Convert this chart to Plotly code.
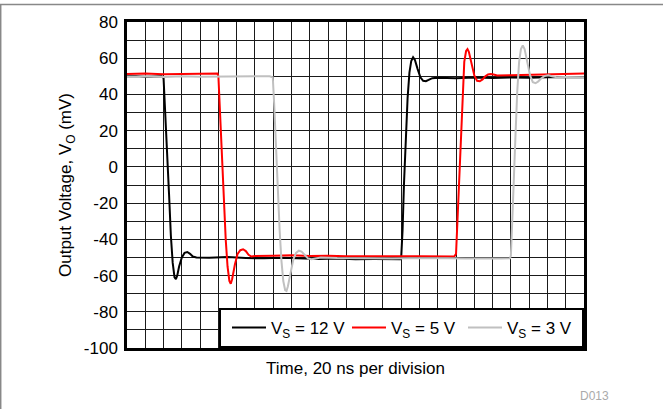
import plotly.graph_objects as go

# ---- data (time in ns, voltage in mV) ----
t_12 = [0, 10, 20, 30, 38, 40, 42, 44, 46, 48, 50, 52, 53.5, 55, 57, 60, 63, 66, 69, 72, 76,
        90, 110, 130, 150, 170, 190, 210, 230, 250, 270, 290, 299, 300, 301.5, 303, 305, 307,
        309, 311, 313, 315, 318, 321, 324, 327, 330, 334, 340, 360, 380, 400, 420, 440, 460,
        480, 500]
v_12 = [50, 50.2, 49.8, 50, 50, 49, 30, 8, -15, -38, -53, -61, -62, -60, -55, -50, -47.5, -47,
        -48, -49.5, -50, -50.2, -49.8, -50.3, -50.5, -50.2, -50.6, -50.8, -50.6, -51, -50.9,
        -51.2, -51, -50, -35, -10, 15, 38, 52, 58.5, 60.5, 59, 54, 49.5, 47.5, 47.3, 48, 49,
        49.2, 49, 49.3, 49.1, 49.4, 49.2, 49.5, 49.4, 49.5]

t_5 = [0, 20, 40, 60, 80, 95, 99, 100, 102, 104, 106, 108, 110, 112, 113.5, 115, 118, 121, 124,
       127, 130, 133, 136, 140, 160, 180, 200, 220, 240, 260, 280, 300, 320, 340, 358, 360,
       361.5, 363, 365, 367, 369, 371, 372.5, 374, 377, 380, 383, 386, 389, 392, 395, 398, 401,
       405, 420, 440, 460, 480, 500]
v_5 = [51.3, 51.5, 51.2, 51.4, 51.3, 51.6, 51.5, 50, 25, 5, -20, -40, -55, -63, -64.5, -62, -54,
       -48, -46, -45.5, -46.5, -48.5, -49.5, -49.2, -49, -48.8, -49.2, -49, -49.3, -49.2, -49.5,
       -49.3, -49.4, -49.6, -49.5, -48, -30, -5, 18, 42, 58, 64, 65, 63.5, 57, 50.5, 47.5, 47.3,
       48.3, 50, 51, 51.3, 51, 50.5, 50.6, 50.8, 51, 51.3, 51.6]

t_3 = [0, 20, 40, 60, 80, 100, 120, 140, 156, 159.5, 161, 163, 165, 167, 169, 171, 173, 174.5,
       176, 179, 182, 185, 188, 191, 194, 198, 202, 206, 212, 230, 250, 270, 290, 310, 330, 350,
       370, 390, 410, 419, 420, 421.5, 423, 425, 427, 429, 431, 433, 435, 438, 441, 444, 447,
       450, 453, 457, 461, 465, 470, 480, 490, 500]
v_3 = [49.8, 50, 49.7, 50, 49.8, 50, 49.9, 50, 50, 49.5, 35, 10, -15, -35, -52, -63, -68, -68.5,
       -66, -58, -51, -47.5, -46.3, -46.8, -48.5, -50.5, -51, -50.5, -50, -50.3, -50.5, -50.4,
       -50.6, -50.5, -50.7, -50.5, -50.6, -50.8, -50.6, -50.5, -49, -30, -5, 17, 42, 58, 65,
       67, 65, 58, 50.5, 46.8, 46.2, 47.2, 48.8, 50.2, 50.6, 50, 49.5, 49.6, 49.4, 49.5]

series_names = ["V<sub>S</sub> = 12 V", "V<sub>S</sub> = 5 V", "V<sub>S</sub> = 3 V"]
series_colors = ["#000000", "#ff0000", "#c0c0c0"]
legend_widths = [65, 61, 70]

y_tick_vals = [-100, -80, -60, -40, -20, 0, 20, 40, 60, 80]
y_tick_text = ["-100", "-80", "-60", "-40", "-20", "0", "20", "40", "60", "80"]

FONT = "Liberation Sans, Arial, sans-serif"
FS = 17

fig = go.Figure()
for t, v, name, col, lw in zip([t_12, t_5, t_3], [v_12, v_5, v_3], series_names,
                               series_colors, legend_widths):
    fig.add_trace(go.Scatter(x=t, y=v, mode="lines", name=name, legendwidth=lw,
                             line=dict(color=col, width=2)))

W, H = 663, 409
ML, MR, MT, MB = 127, 79, 22, 61
pw, ph = W - ML - MR, H - MT - MB

fig.update_layout(
    width=W, height=H,
    margin=dict(l=ML, r=MR, t=MT, b=MB),
    paper_bgcolor="white", plot_bgcolor="white",
    font=dict(family=FONT, size=FS, color="#000000"),
    showlegend=True,
    legend=dict(orientation="h", x=1, xanchor="right", y=0, yanchor="bottom",
                bgcolor="white", bordercolor="black", borderwidth=2, indentation=6,
                itemwidth=34, font=dict(family=FONT, size=FS), tracegroupgap=0),
    xaxis=dict(range=[0, 500], dtick=20, tick0=0, showticklabels=False, ticks="",
               showgrid=True, gridcolor="#1a1a1a", gridwidth=1, zeroline=False,
               showline=True, mirror=True, linecolor="black", linewidth=2.5,
               title=dict(text="Time, 20 ns per division", standoff=13,
                          font=dict(family=FONT, size=FS))),
    yaxis=dict(range=[-100, 80], tickvals=y_tick_vals, ticktext=y_tick_text, ticks="",
               ticklabelstandoff=3, tickfont=dict(family=FONT, size=FS),
               showgrid=True, gridcolor="#1a1a1a", gridwidth=1, zeroline=False,
               minor=dict(dtick=10, tick0=0, showgrid=True, gridcolor="#1a1a1a", gridwidth=1),
               showline=True, mirror=True, linecolor="black", linewidth=2.5,
               title=dict(text="Output Voltage, V<sub>O</sub> (mV)", standoff=8,
                          font=dict(family=FONT, size=FS))),
    shapes=[
        dict(type="line", xref="paper", yref="paper",
             x0=-ML / pw, x1=(W - ML) / pw, y0=1 + (MT - 4.5) / ph, y1=1 + (MT - 4.5) / ph,
             line=dict(color="#888888", width=1.5)),
        dict(type="line", xref="paper", yref="paper",
             x0=(0.7 - ML) / pw, x1=(0.7 - ML) / pw, y0=-MB / ph, y1=1 + (MT - 4.5) / ph,
             line=dict(color="#888888", width=1.5)),
    ],
    annotations=[
        dict(text="D013", xref="paper", yref="paper", x=(611 - ML) / pw, xanchor="right",
             y=-(396 - MT - ph) / ph, yanchor="middle", showarrow=False,
             font=dict(family=FONT, size=12, color="#aaaaaa")),
    ],
)

fig.write_html("out.html", config={"displayModeBar": False},
               post_script="document.body.style.margin='0';document.body.style.padding='0';")
